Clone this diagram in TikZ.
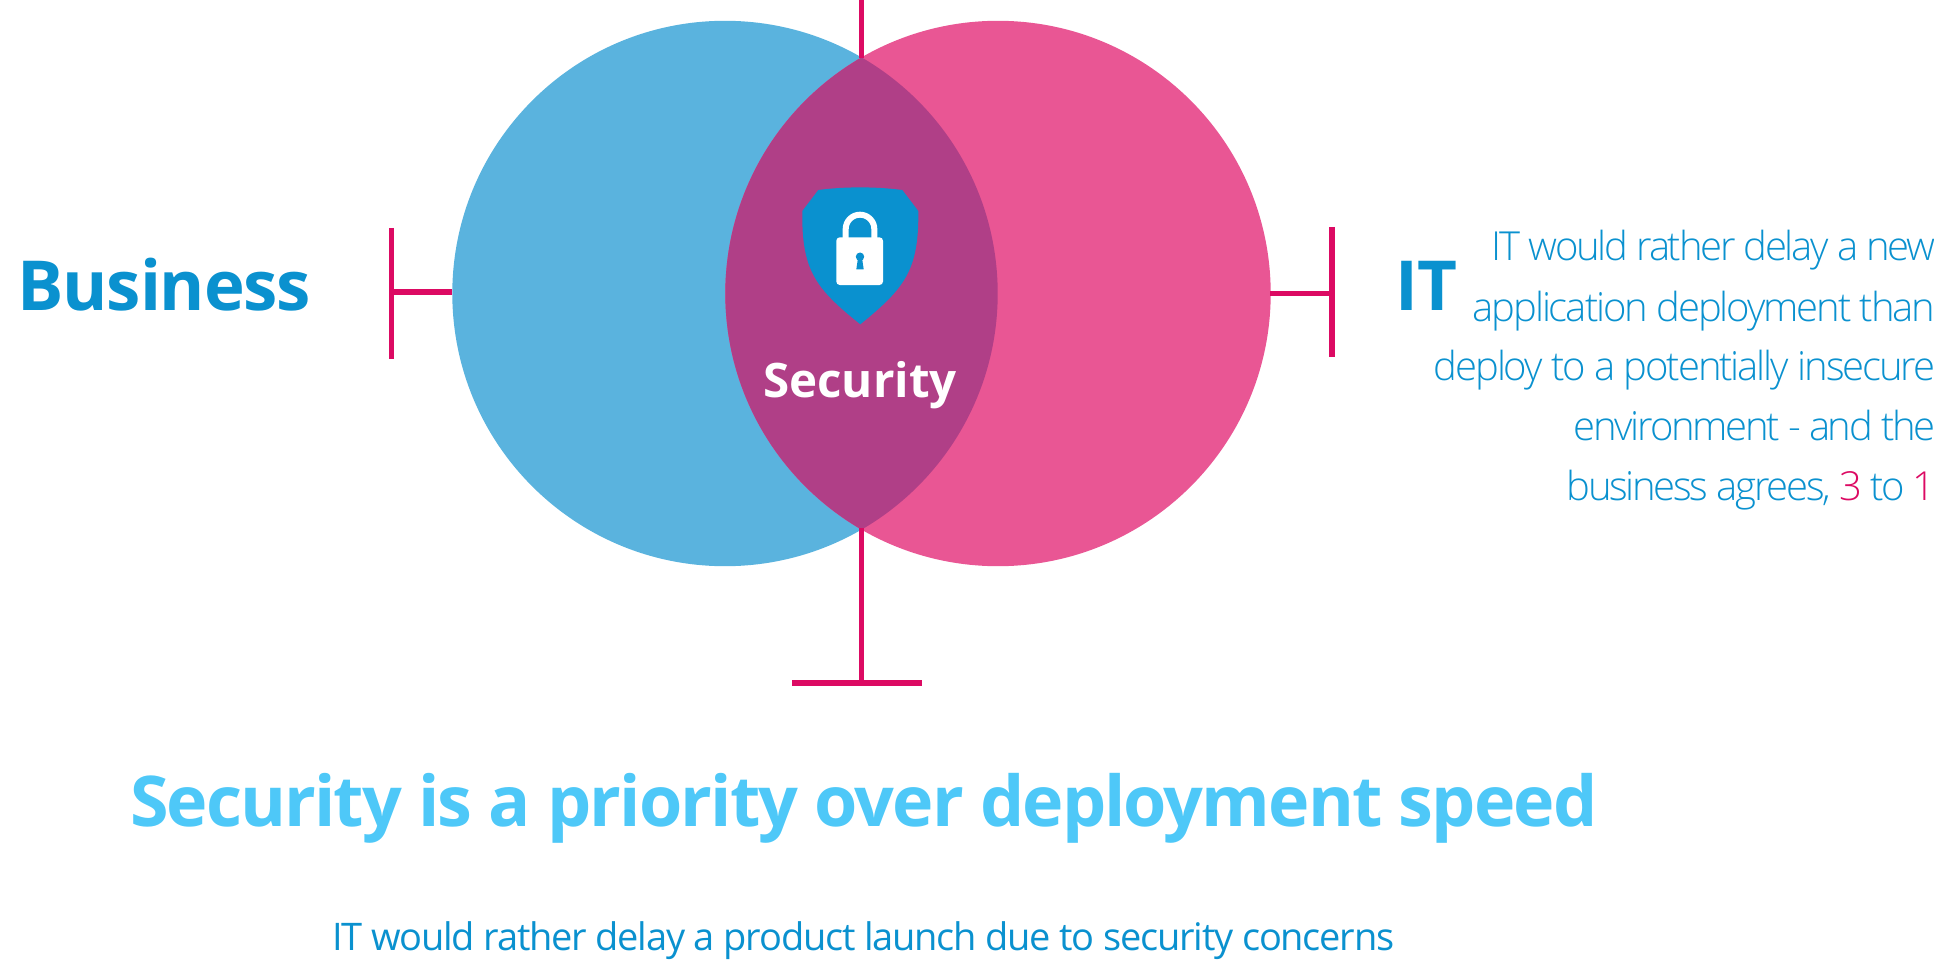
\documentclass[tikz,border=0pt]{standalone}
\usepackage{fontspec}
\setmainfont{Open Sans}
\newfontfamily\lightf[LetterSpace=-5.2]{Open Sans Light}
\newfontfamily\lightg[LetterSpace=-5.7]{Open Sans Light}
\newfontfamily\bizf[LetterSpace=-1.7]{Open Sans Bold}
\newfontfamily\headf[LetterSpace=-2.7]{Open Sans Bold}
\newfontfamily\subf[LetterSpace=-3.2]{Open Sans}
\definecolor{cblue}{HTML}{5AB3DE}
\definecolor{cpink}{HTML}{E95694}
\definecolor{clens}{HTML}{B03F87}
\definecolor{cline}{HTML}{DC0A63}
\definecolor{cdark}{HTML}{0A91CF}
\definecolor{chead}{HTML}{4EC8F8}
\tikzset{
  txt/.style={inner sep=0pt,outer sep=0pt,text=cdark},
  ln/.style={draw=cline,line width=5.6pt},
  bodyline/.style={txt,anchor=base east,font=\fontsize{40}{40}\selectfont\lightf},
  bodylineb/.style={txt,anchor=base east,font=\fontsize{40}{40}\selectfont\lightg},
}
\begin{document}
\begin{tikzpicture}[x=1pt,y=-1pt]
\useasboundingbox (0,0) rectangle (1934,976);
\coordinate (cb) at (725,293.5);
\coordinate (cp) at (998,293.5);
\fill[cblue] (cb) circle[radius=272.7];
\fill[cpink] (cp) circle[radius=272.7];
\begin{scope}
\clip (cb) circle[radius=272.7];
\fill[clens] (cp) circle[radius=272.7];
\end{scope}
% connectors
\coordinate (topA) at (861.5,0);
\coordinate (topB) at (861.5,58);
\coordinate (botA) at (861.5,528);
\coordinate (botB) at (861.5,683);
\coordinate (botL) at (792,683);
\coordinate (botR) at (922,683);
\coordinate (lA) at (452,292);
\coordinate (lB) at (391.3,292);
\coordinate (lT) at (391.3,228);
\coordinate (lD) at (391.3,359);
\coordinate (rA) at (1270,293.5);
\coordinate (rB) at (1332,293.5);
\coordinate (rT) at (1332,227);
\coordinate (rD) at (1332,357);
\draw[ln] (topA) -- (topB);
\draw[ln] (botA) -- (botB);
\draw[ln] (botL) -- (botR);
\draw[ln] (lA) -- (lB);
\draw[ln] (lT) -- (lD);
\draw[ln] (rA) -- (rB);
\draw[ln] (rT) -- (rD);
% shield
\fill[cdark] (818.3,190) .. controls (845,186.5) and (875,186.5) .. (902.3,190)
  -- (918.3,211) .. controls (919,270) and (905,288) .. (860.3,324.3)
  .. controls (815,288) and (801.5,270) .. (802.3,211) -- cycle;
% lock
\draw[white,line width=6pt] (845.7,240) -- (845.7,229) arc[start angle=180,end angle=360,radius=14.3] -- (874.3,240);
\fill[white,rounded corners=3.5pt] (836.3,237.3) rectangle (883,285);
\fill[cdark] (860,256.7) circle[radius=4.2];
\fill[cdark] (858,258) -- (862,258) -- (863.7,269.3) -- (856.3,269.3) -- cycle;
% text
\node[txt,anchor=base west,font=\fontsize{69}{69}\selectfont\bizf] (biz) at (17.5,310) {Business};
\node[txt,anchor=base west,font=\fontsize{69}{69}\selectfont\bfseries] (it) at (1395,310) {IT};
\node[txt,anchor=base,text=white,font=\fontsize{47.5}{47.5}\selectfont\bfseries] (sec) at (860,397) {Security};
\node[bodylineb] (l1) at (1935.5,261) {IT would rather delay a new};
\node[bodyline] (l2) at (1935.5,321) {application deployment than};
\node[bodyline] (l3) at (1935.5,380.5) {deploy to a potentially insecure};
\node[bodylineb] (l4) at (1935.5,440) {environment - and the};
\node[bodylineb] (l5) at (1935.5,500) {business agrees, \textcolor{cline}{3} to \textcolor{cline}{1}};
\node[txt,text=chead,anchor=base west,font=\fontsize{70}{70}\selectfont\headf] (head) at (130,826) {Security is a priority over deployment speed};
\node[txt,anchor=base west,font=\fontsize{38}{38}\selectfont\subf] (sub) at (332,950) {IT would rather delay a product launch due to security concerns};
\end{tikzpicture}
\end{document}
